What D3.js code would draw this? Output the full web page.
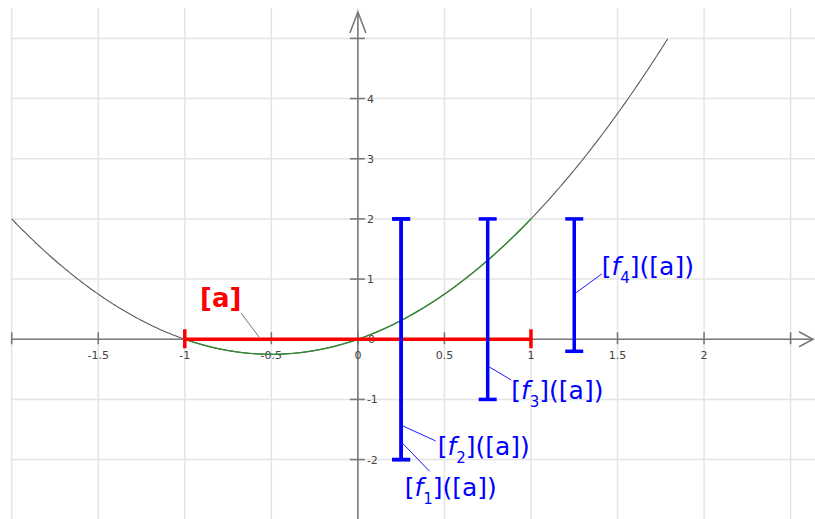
<!DOCTYPE html>
<html>
<head>
<meta charset="utf-8">
<script src="https://cdn.jsdelivr.net/npm/d3@7"></script>
<style>
  html, body { margin: 0; padding: 0; background: #fff; }
  svg { display: block; font-family: "DejaVu Sans", sans-serif; }
</style>
</head>
<body>
<svg id="chart" width="815" height="519"></svg>
<script>
// Grid / tick values
const xTicks = [-2, -1.5, -1, -0.5, 0, 0.5, 1, 1.5, 2, 2.5];
const xTickLabels = [-1.5, -1, -0.5, 0, 0.5, 1, 1.5, 2];
const yTicks = [-2, -1, 0, 1, 2, 3, 4, 5];
const yTickLabels = [-2, -1, 0, 1, 2, 3, 4];

// f(x) = c0 + c1·x + c2·x², plotted over curveDomain
const curveCoeffs = [0, 1, 1];
const curveDomain = [-2, 1.79];

// Input interval [a]
const intervalA = [-1, 1];

// Interval images [f_k]([a])
const imageIndex = ["1", "2", "3", "4"];
const imageX = [0.25, 0.25, 0.75, 1.25];
const imageLow = [-2, -2, -1, -0.2];
const imageHigh = [2, 2, 2, 2];

// Label placement: leader anchor on the mark (data y) and label offset in px
const imageLayout = [
  { anchorY: -1.73, dx: 27, dy: 28, tx: -25, baseline: 25 },
  { anchorY: -1.44, dx: 33, dy: 15, tx: 2, baseline: 14 },
  { anchorY: -0.46, dx: 22, dy: 13, tx: 0, baseline: 19 },
  { anchorY: 0.77, dx: 26, dy: -19, tx: 0, baseline: 1 }
];

const svg = d3.select("#chart");
const W = 815, H = 519;
const plotLeft = 11.7, plotTop = 8;

const x = d3.scaleLinear().domain([-2, 2.5]).range([11.7, 790.6]);
const y = d3.scaleLinear().domain([-2, 5]).range([459.6, 38.4]);

const axisColor = "#7a7a7a";
const gridColor = "#e4e4e4";
const textColor = "#444";

// Grid
const grid = svg.append("g");
grid.selectAll("line.vx").data(xTicks).join("line")
  .attr("x1", d => x(d)).attr("x2", d => x(d))
  .attr("y1", plotTop).attr("y2", H)
  .attr("stroke", gridColor).attr("stroke-width", 1.5);
grid.selectAll("line.hy").data(yTicks).join("line")
  .attr("x1", plotLeft).attr("x2", W)
  .attr("y1", d => y(d)).attr("y2", d => y(d))
  .attr("stroke", gridColor).attr("stroke-width", 1.5);

// Axes
const axes = svg.append("g").attr("stroke", axisColor).attr("stroke-width", 1.6).attr("fill", "none");
axes.append("line").attr("x1", plotLeft).attr("x2", 813).attr("y1", y(0)).attr("y2", y(0));
axes.append("polyline").attr("points", `799,${y(0) - 7.5} 813,${y(0)} 799,${y(0) + 7.5}`);
axes.append("line").attr("x1", x(0)).attr("x2", x(0)).attr("y1", 12).attr("y2", H);
axes.append("polyline").attr("points", `${x(0) - 8},33 ${x(0)},12 ${x(0) + 8},33`);

axes.selectAll("line.xt").data(xTicks).join("line")
  .attr("x1", d => x(d)).attr("x2", d => x(d))
  .attr("y1", y(0) - 7).attr("y2", y(0) + 5);
axes.selectAll("line.yt").data(yTicks.filter(d => d !== 0)).join("line")
  .attr("x1", x(0) - 8).attr("x2", x(0) + 7)
  .attr("y1", d => y(d)).attr("y2", d => y(d));

const fmt = d => (d < 0 ? "-" : "") + Math.abs(d);
svg.append("g").selectAll("text").data(xTickLabels).join("text")
  .attr("x", d => x(d)).attr("y", y(0) + 20)
  .attr("text-anchor", "middle").attr("font-size", 11).attr("fill", textColor)
  .text(fmt);
svg.append("g").selectAll("text").data(yTickLabels).join("text")
  .attr("x", d => x(0) + (d === 0 ? 10 : 9)).attr("y", d => y(d) + 4)
  .attr("text-anchor", "start").attr("font-size", 11).attr("fill", textColor)
  .text(fmt);

// Curve
const f = t => curveCoeffs[0] + curveCoeffs[1] * t + curveCoeffs[2] * t * t;
const pts = d3.range(curveDomain[0], curveDomain[1] + 1e-9, 0.01).map(t => [t, f(t)]);
pts.push([curveDomain[1], f(curveDomain[1])]);
const line = d3.line().x(d => x(d[0])).y(d => y(d[1]));
svg.append("path").attr("d", line(pts))
  .attr("fill", "none").attr("stroke", "#5a5a5a").attr("stroke-width", 1.1);
svg.append("path").attr("d", line(pts.filter(d => d[0] >= intervalA[0] - 1e-9 && d[0] <= intervalA[1] + 1e-9)))
  .attr("fill", "none").attr("stroke", "#2e8b2e").attr("stroke-width", 1.3);

// Interval [a] on the x-axis
const red = "#ff0000";
const ga = svg.append("g").attr("stroke", red).attr("stroke-width", 3.5);
ga.append("line").attr("x1", x(intervalA[0])).attr("x2", x(intervalA[1]))
  .attr("y1", y(0)).attr("y2", y(0));
ga.selectAll("line.end").data(intervalA).join("line")
  .attr("x1", d => x(d)).attr("x2", d => x(d))
  .attr("y1", y(0) - 10).attr("y2", y(0) + 9);
svg.append("line")
  .attr("x1", x(-0.57)).attr("y1", y(0) - 2)
  .attr("x2", 241).attr("y2", 313)
  .attr("stroke", "#666").attr("stroke-width", 0.9);
svg.append("text").attr("x", 200).attr("y", 307)
  .attr("font-size", 26).attr("font-weight", "bold").attr("fill", red)
  .text("[a]");

// Interval images
const blue = "#0000ff";
const imgs = imageIndex.map((k, i) => ({ k, x: imageX[i], lo: imageLow[i], hi: imageHigh[i], L: imageLayout[i] }));
const gi = svg.append("g").attr("stroke", blue).attr("stroke-width", 3.5);
imgs.forEach(d => {
  gi.append("line").attr("x1", x(d.x)).attr("x2", x(d.x)).attr("y1", y(d.lo)).attr("y2", y(d.hi));
  gi.append("line").attr("x1", x(d.x) - 9).attr("x2", x(d.x) + 9).attr("y1", y(d.lo)).attr("y2", y(d.lo));
  gi.append("line").attr("x1", x(d.x) - 9).attr("x2", x(d.x) + 9).attr("y1", y(d.hi)).attr("y2", y(d.hi));
});

imgs.forEach(d => {
  const ax = x(d.x) + 1.5, ay = y(d.L.anchorY);
  const ex = ax + d.L.dx, ey = ay + d.L.dy;
  svg.append("line").attr("x1", ax).attr("y1", ay).attr("x2", ex).attr("y2", ey)
    .attr("stroke", blue).attr("stroke-width", 0.9);
  const t = svg.append("text").attr("x", ex + d.L.tx).attr("y", ey + d.L.baseline)
    .attr("font-size", 25).attr("fill", blue);
  t.append("tspan").text("[");
  t.append("tspan").attr("font-style", "italic").text("f");
  t.append("tspan").attr("font-size", 15).attr("dy", 8).text(d.k);
  t.append("tspan").attr("dy", -8).text("]([a])");
});
</script>
</body>
</html>
